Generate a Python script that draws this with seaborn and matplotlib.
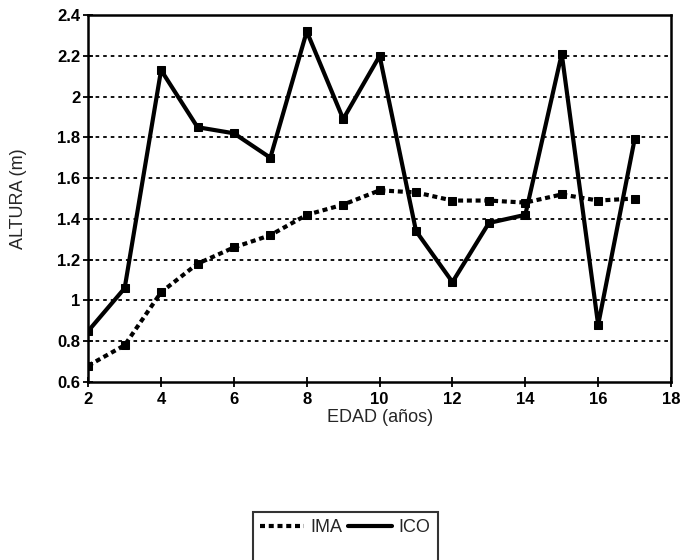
import pandas as pd
import numpy as np
import seaborn as sns
import matplotlib.pyplot as plt
from matplotlib.lines import Line2D

# datos
edad = [2, 3, 4, 5, 6, 7, 8, 9, 10, 11, 12, 13, 14, 15, 16, 17]
ima = [0.68, 0.78, 1.04, 1.18, 1.26, 1.32, 1.42, 1.47, 1.54, 1.53, 1.49, 1.49, 1.48, 1.52, 1.49, 1.50]
ico = [0.85, 1.06, 2.13, 1.85, 1.82, 1.70, 2.32, 1.89, 2.20, 1.34, 1.09, 1.38, 1.42, 2.21, 0.88, 1.79]
yticks = [0.6, 0.8, 1.0, 1.2, 1.4, 1.6, 1.8, 2.0, 2.2, 2.4]
ytick_labels = ["0.6", "0.8", "1", "1.2", "1.4", "1.6", "1.8", "2", "2.2", "2.4"]
xticks = [2, 4, 6, 8, 10, 12, 14, 16, 18]

df = pd.concat([
    pd.DataFrame({"EDAD": edad, "ALTURA": ima, "serie": "IMA"}),
    pd.DataFrame({"EDAD": edad, "ALTURA": ico, "serie": "ICO"}),
])

sns.set_style("ticks")
plt.rcParams['font.family'] = ['Liberation Sans', 'DejaVu Sans']

fig = plt.figure(figsize=(6.84, 5.6), dpi=100)
ax = fig.add_axes([0.129, 0.318, 0.852, 0.655])

sns.lineplot(data=df, x="EDAD", y="ALTURA", hue="serie", style="serie",
             palette={"IMA": "black", "ICO": "black"},
             dashes={"IMA": (1.2, 0.9), "ICO": ""},
             markers={"IMA": "s", "ICO": "s"}, markersize=6,
             markeredgecolor="black",
             linewidth=3, ax=ax, legend=False)

for y in yticks[1:-1]:
    ax.axhline(y, color="black", lw=1.3, ls=(0, (2, 2.2)), zorder=0)

ax.set_xlim(2, 18)
ax.set_ylim(0.6, 2.4)
ax.set_xticks(xticks)
ax.set_yticks(yticks)
ax.set_yticklabels(ytick_labels)
ax.tick_params(direction="inout", length=7, width=1.3, labelsize=12, colors="black", pad=2)
ax.tick_params(axis="x", pad=4)
for lab in ax.get_xticklabels() + ax.get_yticklabels():
    lab.set_fontweight("bold")
for s in ax.spines.values():
    s.set_linewidth(1.8)
    s.set_color("black")

ax.set_xlabel("EDAD (años)", fontsize=13, labelpad=1)
ax.set_ylabel("ALTURA (m)", fontsize=13, labelpad=22)

# leyenda con fila vacia para que la caja baje fuera de la imagen
blank = Line2D([], [], color="none")
h = [Line2D([], [], color="black", lw=3, ls=(0, (1.2, 0.9))), blank,
     Line2D([], [], color="black", lw=3), blank]
leg = fig.legend(h, ["IMA", " ", "ICO", " "], ncol=2, loc="upper left",
                 bbox_to_anchor=(253 / 684, 1 - 512 / 560), borderaxespad=0,
                 frameon=True, fancybox=False, edgecolor="black",
                 fontsize=13, handlelength=2.4, columnspacing=0.3,
                 handletextpad=0.4, borderpad=0.4, labelspacing=0.6)
leg.get_frame().set_linewidth(1.5)

fig.savefig("out.png", dpi=100)
